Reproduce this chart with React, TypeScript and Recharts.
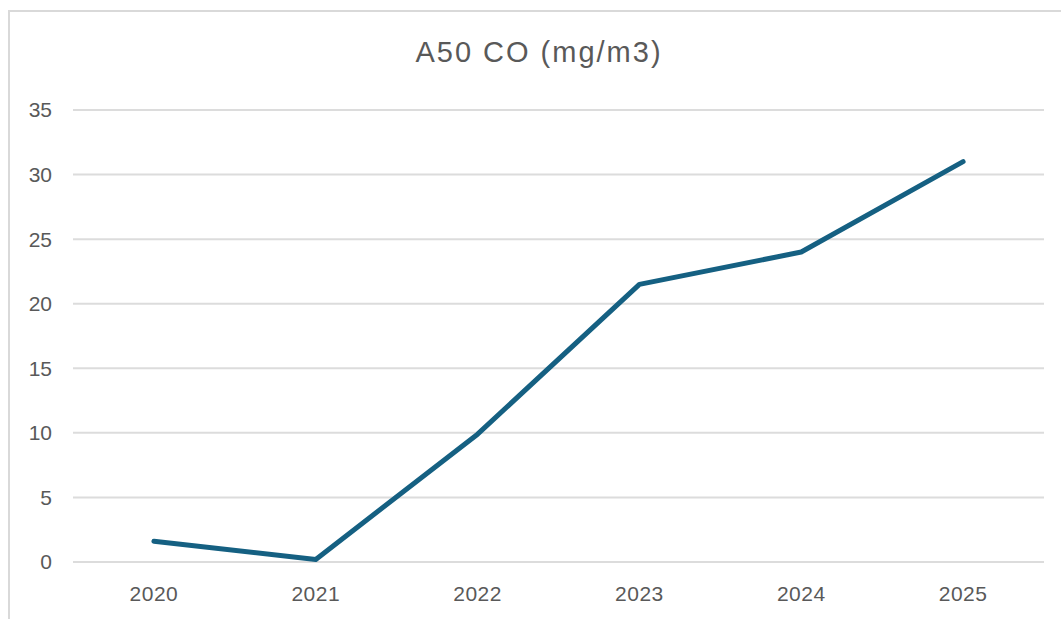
import { LineChart, Line, XAxis, YAxis, CartesianGrid } from 'recharts'

const years = ['2020', '2021', '2022', '2023', '2024', '2025']
const coValues = [1.6, 0.2, 9.9, 21.5, 24, 31]
const yTicks = [0, 5, 10, 15, 20, 25, 30, 35]

const data = years.map((year, i) => ({ year, co: coValues[i] }))

const font = '"Liberation Sans", Arial, sans-serif'
const textColor = '#595959'

const App = () => {
  return (
    <div style={{ position: 'absolute', left: 0, top: 0, width: 1061, height: 619, overflow: 'hidden', background: '#fff' }}>
      {/* frame */}
      <div
        style={{
          position: 'absolute',
          left: 8,
          top: 10,
          width: 1100,
          height: 700,
          border: '2px solid #d9d9d9',
          boxSizing: 'border-box'
        }}
      />

      {/* title */}
      <div
        style={{
          position: 'absolute',
          left: 0,
          top: 35,
          width: 1078,
          textAlign: 'center',
          fontFamily: font,
          fontSize: 29,
          letterSpacing: 2,
          color: textColor,
          lineHeight: '34px'
        }}
      >
        A50 CO (mg/m3)
      </div>

      <div style={{ position: 'absolute', left: 0, top: 0 }}>
        <LineChart width={1061} height={619} data={data} margin={{ top: 110, right: 17, bottom: 0, left: 0 }}>
          <CartesianGrid vertical={false} stroke="#dcdcdc" strokeWidth={2} />
          <XAxis
            dataKey="year"
            scale="band"
            axisLine={false}
            tickLine={false}
            tickSize={0}
            tickMargin={24}
            height={57}
            interval={0}
            tick={{ fill: textColor, fontSize: 21, fontFamily: font, letterSpacing: 0.5 }}
          />
          <YAxis
            domain={[0, 35]}
            ticks={yTicks}
            axisLine={false}
            tickLine={false}
            tickSize={0}
            tickMargin={21}
            width={73}
            tick={{ fill: textColor, fontSize: 21, fontFamily: font }}
          />
          <Line
            type="linear"
            dataKey="co"
            stroke="#156082"
            strokeWidth={5}
            strokeLinecap="round"
            strokeLinejoin="round"
            dot={false}
            activeDot={false}
            isAnimationActive={false}
          />
        </LineChart>
      </div>
    </div>
  )
}

export default App
